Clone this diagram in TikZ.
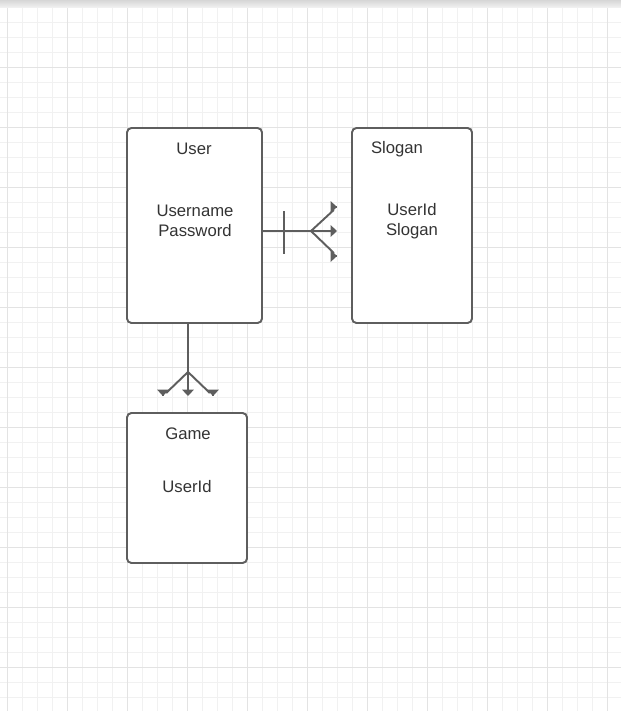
\documentclass[tikz,border=0pt]{standalone}
\usepackage{fontspec}
\setmainfont{Liberation Sans}
\usetikzlibrary{arrows.meta}
\usetikzlibrary{positioning}
\definecolor{linegray}{HTML}{5E5E5E}
\definecolor{textgray}{HTML}{333333}
\definecolor{minorgrid}{HTML}{F1F1F1}
\definecolor{majorgrid}{HTML}{E3E3E3}

\begin{document}
\begin{tikzpicture}[x=0.02cm,y=-0.02cm,
    entity/.style={draw=linegray,line width=1.1pt,rounded corners=2.5pt,fill=white,inner sep=0pt},
    label text/.style={text=textgray,font=\fontsize{9.5}{11.3}\selectfont,inner sep=0pt,align=center},
    link/.style={draw=linegray,line width=1.1pt},
    prong/.style={link,shorten >=2.5pt},
    foot/.style={link,-{Triangle[length=3.6pt,width=6.5pt]}}]
  % grid paper
  \useasboundingbox (0,0) rectangle (621,711);
  \fill[white] (0,0) rectangle (621,711);
  \foreach \g in {7,22,...,621} \draw[minorgrid,line width=0.5pt] (\g,7) -- (\g,711);
  \foreach \g in {22,37,...,711} \draw[minorgrid,line width=0.5pt] (0,\g) -- (621,\g);
  \foreach \g in {7,67,...,621} \draw[majorgrid,line width=0.55pt] (\g,7) -- (\g,711);
  \foreach \g in {67,127,...,711} \draw[majorgrid,line width=0.55pt] (0,\g) -- (621,\g);
  \shade[top color=black!16,bottom color=black!6] (0,0) rectangle (621,7);

  % entities
  \node[entity,minimum width=2.7cm,minimum height=3.9cm] (user) at (194.5,225.5) {};
  \node[entity,minimum width=2.4cm,minimum height=3.9cm] (slogan) at (412,225.5) {};
  \node[entity,minimum width=2.4cm,minimum height=3cm] (game) at (187,488) {};

  \node[label text] (usertitle) at (194,149) {User};
  \node[label text] (userattr) at (195,221) {Username\\Password};
  \node[label text] (slogantitle) at (397,149) {Slogan};
  \node[label text] (sloganattr) at (412,221) {UserId\\Slogan};
  \node[label text] (gametitle) at (188,434) {Game};
  \node[label text] (gameattr) at (187,487) {UserId};

  % user -> slogan (one to many)
  \coordinate (sfoot) at (337,231);
  \coordinate (sup) at (337,207);
  \coordinate (sdown) at (337,256);
  \coordinate (sfork) at (311,231);
  \coordinate (sbartop) at (284,211);
  \coordinate (sbarbot) at (284,254);
  \draw[foot] (user.east |- sfoot) -- (sfoot);
  \draw[link] (sbartop) -- (sbarbot);
  \draw[prong] (sfork) -- (sup);
  \draw[prong] (sfork) -- (sdown);
  \draw[foot] ([xshift=-0.2pt]sup) -- (sup);
  \draw[foot] ([xshift=-0.2pt]sdown) -- (sdown);

  % user -> game (many)
  \coordinate (gfoot) at (188,396);
  \coordinate (gleft) at (163,396);
  \coordinate (gright) at (213,396);
  \coordinate (gfork) at (188,372);
  \draw[foot] (user.south -| gfoot) -- (gfoot);
  \draw[prong] (gfork) -- (gleft);
  \draw[prong] (gfork) -- (gright);
  \draw[foot] ([yshift=0.2pt]gleft) -- (gleft);
  \draw[foot] ([yshift=0.2pt]gright) -- (gright);
\end{tikzpicture}
\end{document}
